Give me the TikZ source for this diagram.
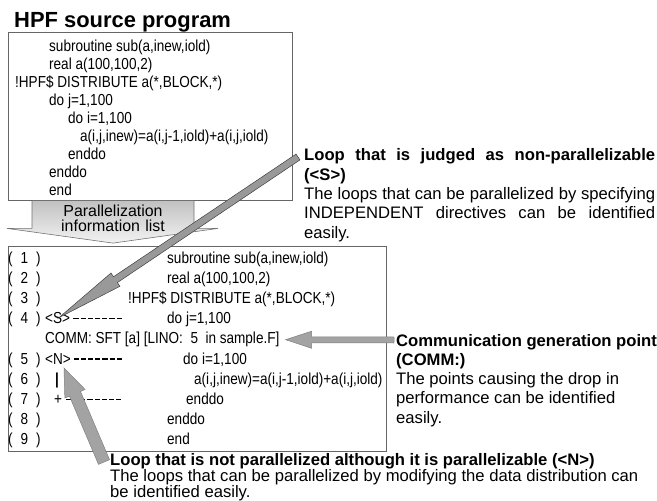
\documentclass[tikz,border=0pt]{standalone}
\usepackage{fontspec}
\setmainfont{Liberation Sans}
\newfontfamily\codefont[FakeStretch=0.85]{Liberation Sans}
\usetikzlibrary{calc}

% dashes after the loop marks
\newcommand{\dashrun}[1]{\hbox to #1{\cleaders\hbox{\kern1bp\rule[4.5bp]{5.2bp}{1.3bp}\kern1bp}\hfill}}
% a line spread over the full width
\newcommand{\justline}[2]{\makebox[#1][s]{\spaceskip=0pt\xspaceskip=0pt #2}}
% wide gray pointer: style, tail, tip, half shaft, head length, half head
\newcommand{\grayarrow}[6]{%
  \coordinate (ga-base) at ($(#3)!#5!(#2)$);
  \filldraw[#1] ($(#2)!#4!90:(#3)$) -- ($(ga-base)!#4!90:(#3)$) -- ($(ga-base)!#6!90:(#3)$) -- (#3)
    -- ($(ga-base)!#6!-90:(#3)$) -- ($(ga-base)!#4!-90:(#3)$) -- ($(#2)!#4!-90:(#3)$) -- cycle;}

\begin{document}
\begin{tikzpicture}[x=1bp,y=-1bp,
    code/.style={anchor=base west, inner sep=0pt, font=\codefont\fontsize{16}{18}\selectfont},
    note/.style={anchor=base west, inner sep=0pt, align=left, text width=352bp, font=\fontsize{16.7}{19.3}\selectfont,
        execute at begin node={\spaceskip=0pt\xspaceskip=0pt\relax}},
    headnote/.style={note, font=\bfseries\fontsize{16.7}{19.3}\selectfont},
    box/.style={draw=black!60, line width=0.8bp, inner sep=0pt},
    pointer/.style={fill=black!36, draw=black!50, line width=0.5bp}]
    \useasboundingbox (0,0) rectangle (657,501);

    % Title
    \node[anchor=base west, inner sep=0pt, font=\bfseries\fontsize{22}{24}\selectfont] (title) at (14,28) {HPF source program};

    % Source program
    \node[box, minimum width=284bp, minimum height=168.5bp] (srcbox) at (150,116.25) {};
    \foreach \yy/\xx/\txt [count=\k] in {52/49/{subroutine sub(a,inew,iold)}, 69.9/49/{real a(100,100,2)},
        87.8/15/{!HPF\$ DISTRIBUTE a(*,BLOCK,*)}, 105.7/49/{do j=1,100}, 123.6/68/{do i=1,100},
        141.5/80/{a(i,j,inew)=a(i,j-1,iold)+a(i,j,iold)}, 159.4/68/{enddo}, 177.3/49/{enddo}, 195.2/49/{end}}
        \node[code] (src\k) at (\xx,\yy) {\txt};

    % Parallelization information list
    \node[box, minimum width=378bp, minimum height=205bp] (listbox) at (197,348.5) {};
    \coordinate (flow) at ($(srcbox.south)+(-37,0)$);
    \shadedraw[top color=black!24, bottom color=black!5, draw=black!55, line width=0.6bp]
        ($(flow)+(-81,0)$) -- ($(flow)+(-81,27.5)$) -- ($(flow)+(-106,27.5)$) -- ($(flow |- listbox.north)+(0,-2.5)$)
        -- ($(flow)+(105,27.5)$) -- ($(flow)+(81,27.5)$) -- ($(flow)+(81,0)$);
    \node[anchor=base, inner sep=0pt, text width=130bp, align=center, font=\fontsize{16}{15}\selectfont] (flowlabel) at (113,217) {Parallelization\\information list};

    \foreach \n/\yy in {1/263,2/283.2,3/303.4,4/323.6,5/364,6/384.2,7/404.4,8/424.6,9/444.8}
        \node[code] (row\n) at (8,\yy) {(\hspace{8bp}\n\hspace{8bp})};

    \node[code] (line1) at (167,263) {subroutine sub(a,inew,iold)};
    \node[code] (line2) at (167,283.2) {real a(100,100,2)};
    \node[code] (line3) at (128,303.4) {!HPF\$ DISTRIBUTE a(*,BLOCK,*)};
    \node[code] (sMark) at (45,323.6) {<S>\dashrun{55bp}};
    \node[code] (line4) at (167,323.6) {do j=1,100};
    \node[code] (commLine) at (45,343.8) {COMM: SFT [a] [LINO:\ \ 5\ \ in sample.F]};
    \node[code] (nMark) at (45,364) {<N>\dashrun{54bp}};
    \node[code] (line5) at (183,364) {do i=1,100};
    \node[code] (bar) at (55,384.2) {\bfseries|};
    \node[code] (line6) at (194,384.2) {a(i,j,inew)=a(i,j-1,iold)+a(i,j,iold)};
    \node[code] (plus) at (54,404.4) {+\dashrun{63bp}};
    \node[code] (line7) at (186,404.4) {enddo};
    \node[code] (line8) at (167,424.6) {enddo};
    \node[code] (line9) at (167,444.8) {end};

    % Notes
    \node[headnote] (sHead) at (304,161) {\justline{351bp}{Loop that is judged as non-parallelizable}\\(<S>)};
    \node[note] (sBody) at (304,199.6) {\justline{351bp}{The loops that can be parallelized by specifying}\\\justline{351bp}{INDEPENDENT directives can be identified}\\easily.};

    \node[headnote, text width=300bp] (commHead) at (396,346) {Communication generation point\\(COMM:)};
    \node[note, text width=300bp] (commBody) at (396,384.6) {The points causing the drop in\\performance can be identified\\easily.};

    \node[headnote, text width=547bp] (nHead) at (110,465) {Loop that is not parallelized although it is parallelizable (<N>)};
    \node[note, text width=547bp, font=\fontsize{16.7}{16.5}\selectfont] (nBody) at (110,481.5) {The loops that can be parallelized by modifying the data distribution can\\be identified easily.};

    % Pointers
    \coordinate (sTail) at ($(sHead.base west)+(-6,-4)$);
    \coordinate (sTip) at ($(sMark.base west)+(14,-6)$);
    \grayarrow{pointer, fill=black!40, draw=black!75}{sTail}{sTip}{3.5bp}{68bp}{8bp}

    \coordinate (commTail) at ($(commHead.base west)+(-2,-6)$);
    \coordinate (commTip) at ($(commLine.east)+(6,0)$);
    \grayarrow{pointer}{commTail}{commTip}{3bp}{26bp}{8.5bp}

    \coordinate (nTail) at ($(nHead.base west)+(-6,-3)$);
    \coordinate (nTip) at ($(nMark.base west)+(19,4)$);
    \grayarrow{pointer}{nTail}{nTip}{6bp}{28bp}{11bp}
\end{tikzpicture}
\end{document}
